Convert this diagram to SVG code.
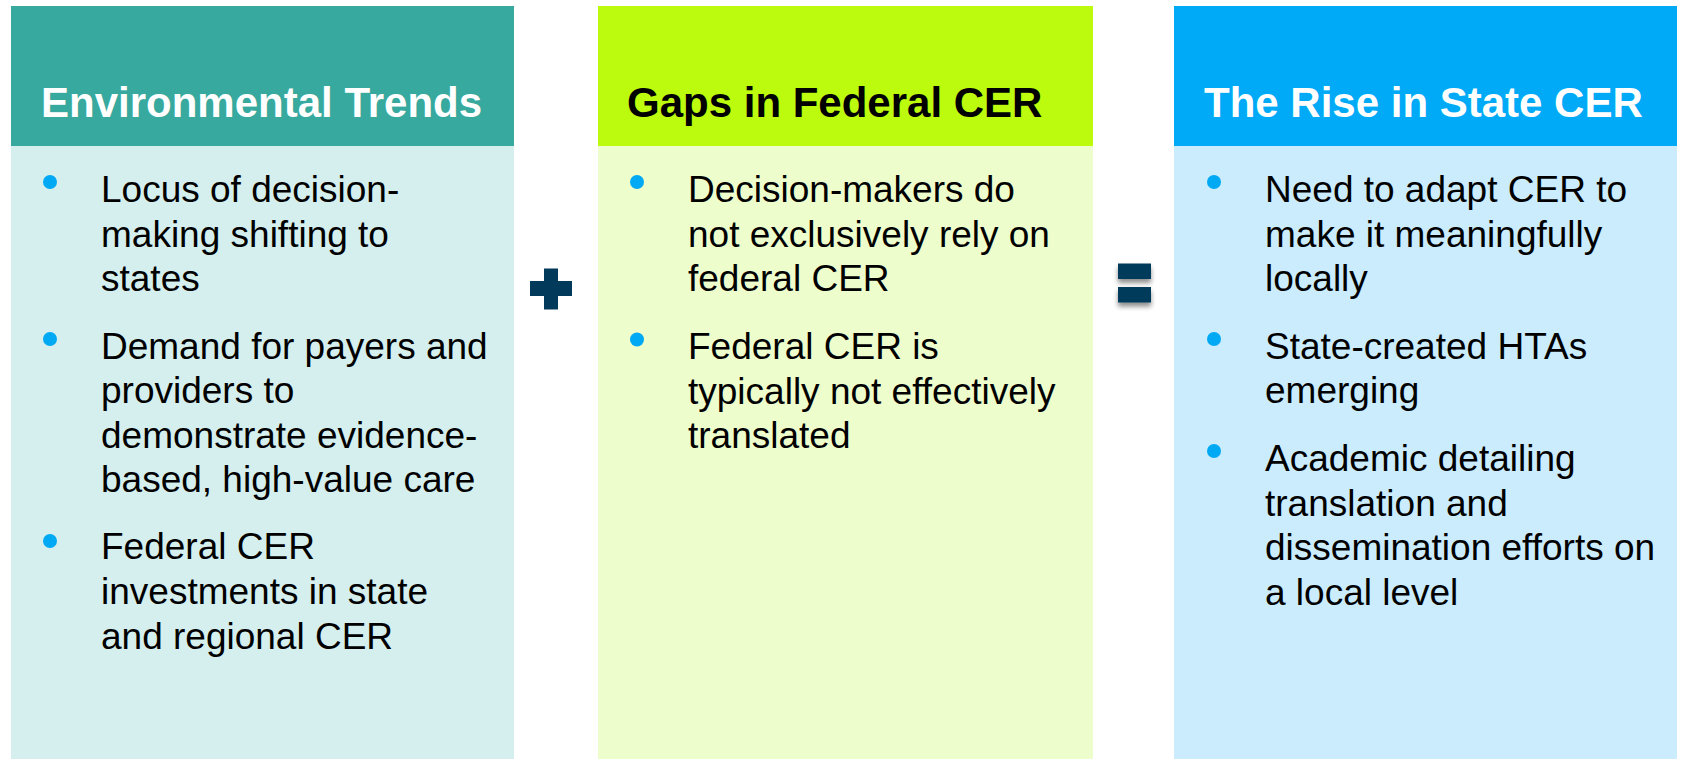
<svg xmlns="http://www.w3.org/2000/svg" width="1681" height="759" viewBox="0 0 1681 759">
<style>
.hd{font-family:"Liberation Sans",Arial,sans-serif;font-weight:bold;font-size:42px}
.bd{font-family:"Liberation Sans",Arial,sans-serif;font-size:37px;fill:#000}
.bul{fill:#00A9F4}
.op{fill:#023A5B}
</style>
<defs>
<filter id="sh" x="-30%" y="-50%" width="160%" height="220%">
<feGaussianBlur in="SourceAlpha" stdDeviation="2.5"/>
<feOffset dx="0" dy="4" result="b"/>
<feComponentTransfer><feFuncA type="linear" slope="0.45"/></feComponentTransfer>
<feMerge><feMergeNode/><feMergeNode in="SourceGraphic"/></feMerge>
</filter>
</defs>
<rect width="1681" height="759" fill="#fff"/>

<g id="col-environmental-trends">
<rect x="11" y="146" width="503" height="613" fill="#D4EFEE"/>
<rect x="11" y="6" width="503" height="140" fill="#37A99E"/>
<text class="hd" x="41" y="117" fill="#fff">Environmental Trends</text>
<circle class="bul" cx="50" cy="182" r="7"/>
<circle class="bul" cx="50" cy="339" r="7"/>
<circle class="bul" cx="50" cy="541" r="7"/>
<text class="bd" x="101" y="202">Locus of decision-</text>
<text class="bd" x="101" y="246.5">making shifting to</text>
<text class="bd" x="101" y="291">states</text>
<text class="bd" x="101" y="358.5">Demand for payers and</text>
<text class="bd" x="101" y="403">providers to</text>
<text class="bd" x="101" y="447.5">demonstrate evidence-</text>
<text class="bd" x="101" y="492">based, high-value care</text>
<text class="bd" x="101" y="559">Federal CER</text>
<text class="bd" x="101" y="604">investments in state</text>
<text class="bd" x="101" y="649">and regional CER</text>
</g>

<g id="op-plus">
<rect class="op" x="530" y="281" width="42" height="15"/>
<rect class="op" x="544" y="268.5" width="14" height="41"/>
</g>

<g id="col-gaps-federal-cer">
<rect x="598" y="146" width="495" height="613" fill="#EEFDCC"/>
<rect x="598" y="6" width="495" height="140" fill="#BCFA0E"/>
<text class="hd" x="627" y="117" fill="#000">Gaps in Federal CER</text>
<circle class="bul" cx="637" cy="182" r="7"/>
<circle class="bul" cx="637" cy="339.5" r="7"/>
<text class="bd" x="688" y="202">Decision-makers do</text>
<text class="bd" x="688" y="246.5">not exclusively rely on</text>
<text class="bd" x="688" y="291">federal CER</text>
<text class="bd" x="688" y="359">Federal CER is</text>
<text class="bd" x="688" y="403.5">typically not effectively</text>
<text class="bd" x="688" y="448">translated</text>
</g>

<g id="op-equals" filter="url(#sh)">
<rect class="op" x="1118" y="263.5" width="33" height="15.5"/>
<rect class="op" x="1118" y="287" width="33" height="15.5"/>
</g>

<g id="col-rise-state-cer">
<rect x="1174" y="146" width="503" height="613" fill="#CAECFD"/>
<rect x="1174" y="6" width="503" height="140" fill="#00AAF6"/>
<text class="hd" x="1204" y="117" fill="#fff">The Rise in State CER</text>
<circle class="bul" cx="1214" cy="182" r="7"/>
<circle class="bul" cx="1214" cy="339" r="7"/>
<circle class="bul" cx="1214" cy="451" r="7"/>
<text class="bd" x="1265" y="202">Need to adapt CER to</text>
<text class="bd" x="1265" y="246.5">make it meaningfully</text>
<text class="bd" x="1265" y="291">locally</text>
<text class="bd" x="1265" y="358.5">State-created HTAs</text>
<text class="bd" x="1265" y="403">emerging</text>
<text class="bd" x="1265" y="471">Academic detailing</text>
<text class="bd" x="1265" y="515.5">translation and</text>
<text class="bd" x="1265" y="560">dissemination efforts on</text>
<text class="bd" x="1265" y="604.5">a local level</text>
</g>
</svg>
